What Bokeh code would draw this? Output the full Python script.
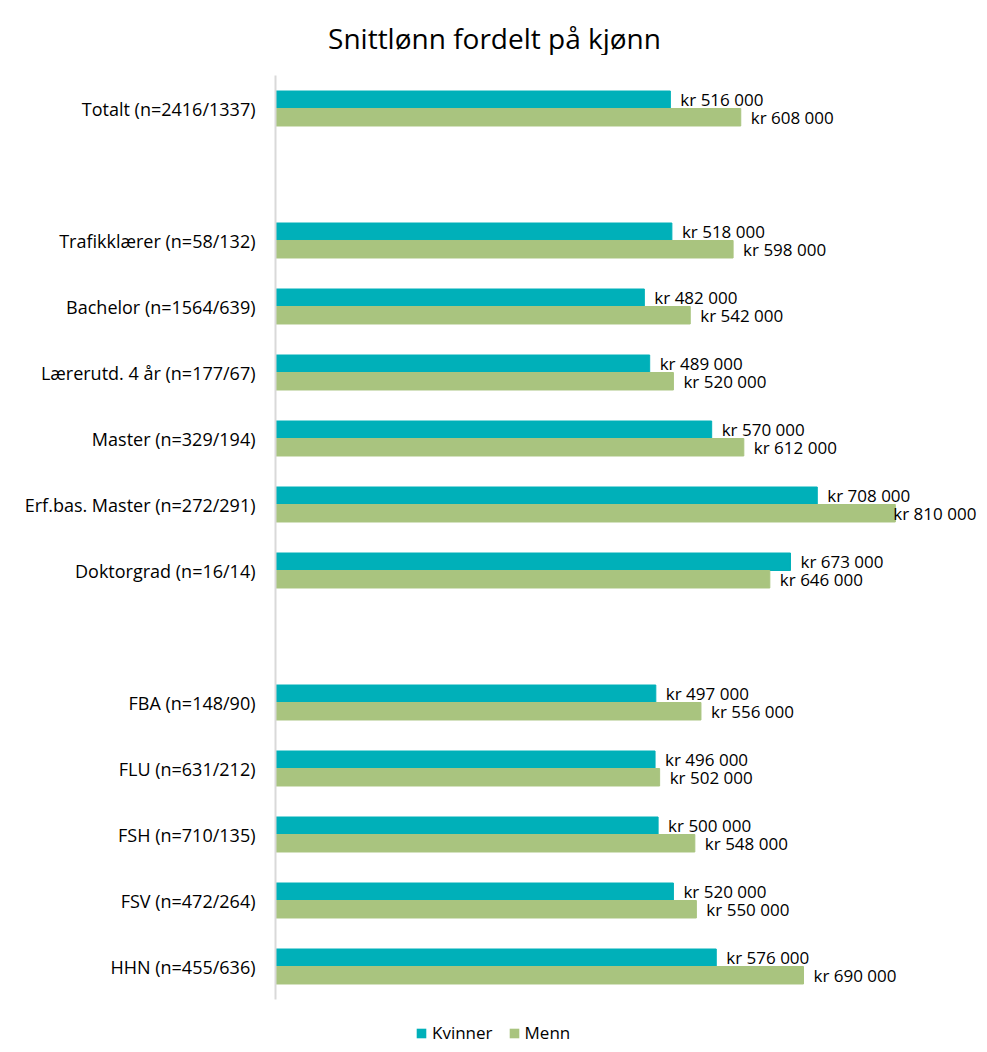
from bokeh.plotting import figure
from bokeh.layouts import column
from bokeh.models import ColumnDataSource, FactorRange, Range1d, Legend, LegendItem, Label
from bokeh.transform import dodge
from bokeh.core.properties import value
from bokeh.embed import file_html
from bokeh.resources import INLINE

title_text = "Snittlønn fordelt på kjønn"
group_total = ["Totalt (n=2416/1337)"]
group_degree = ["Trafikklærer (n=58/132)", "Bachelor (n=1564/639)", "Lærerutd. 4 år (n=177/67)",
                "Master (n=329/194)", "Erf.bas. Master (n=272/291)", "Doktorgrad (n=16/14)"]
group_faculty = ["FBA (n=148/90)", "FLU (n=631/212)", "FSH (n=710/135)", "FSV (n=472/264)", "HHN (n=455/636)"]
categories = group_total + group_degree + group_faculty
kvinner = [516000, 518000, 482000, 489000, 570000, 708000, 673000, 497000, 496000, 500000, 520000, 576000]
menn = [608000, 598000, 542000, 520000, 612000, 810000, 646000, 556000, 502000, 548000, 550000, 690000]
series_names = ["Kvinner", "Menn"]

C_K = "#00B0B9"
C_M = "#A9C47F"
FONT = "Open Sans"

factors = group_total + [" "] + group_degree + ["  "] + group_faculty

def fmt(v):
    return "kr " + f"{v:,}".replace(",", " ")

vmax = max(max(kvinner), max(menn))
src = ColumnDataSource(dict(
    cat=categories, kvinner=kvinner, menn=menn,
    k_lbl=[fmt(v) for v in kvinner], m_lbl=[fmt(v) for v in menn],
    k_off=[10 if v < vmax else -2 for v in kvinner],
    m_off=[10 if v < vmax else -2 for v in menn],
))

# title strip
tt = figure(width=979, height=55, output_backend="svg", toolbar_location=None,
            x_range=Range1d(0, 1), y_range=Range1d(0, 1),
            min_border_left=0, min_border_right=0, min_border_top=0, min_border_bottom=0)
tt.axis.visible = False
tt.grid.grid_line_color = None
tt.outline_line_color = None
tt.add_layout(Label(x=219, y=18, x_units="screen", y_units="screen", text=title_text,
                    text_align="center", text_baseline="alphabetic", text_font=FONT,
                    text_font_size="28px", text_color="#000000"))

p = figure(width=979, height=949, output_backend="svg", toolbar_location=None,
           y_range=FactorRange(factors=list(reversed(factors)), range_padding=0),
           x_range=Range1d(0, 920000),
           min_border_left=275, min_border_right=0, min_border_top=20, min_border_bottom=5)

bh = 0.265
p.hbar(y=dodge("cat", bh / 2, range=p.y_range), left=0, right="kvinner", height=bh,
       color=C_K, source=src)
p.hbar(y=dodge("cat", -bh / 2, range=p.y_range), left=0, right="menn", height=bh,
       color=C_M, source=src)
p.text(x="kvinner", y=dodge("cat", bh / 2, range=p.y_range), text="k_lbl", x_offset="k_off",
       text_baseline="middle", text_align="left", text_font=value(FONT), text_font_size="17px",
       text_color="#000000", source=src)
p.text(x="menn", y=dodge("cat", -bh / 2, range=p.y_range), text="m_lbl", x_offset="m_off",
       text_baseline="middle", text_align="left", text_font=value(FONT), text_font_size="17px",
       text_color="#000000", source=src)

p.xaxis.visible = False
p.xgrid.grid_line_color = None
p.ygrid.grid_line_color = None
p.outline_line_color = None
p.yaxis.axis_line_color = "#D9D9D9"
p.yaxis.axis_line_width = 2
p.yaxis.major_tick_line_color = None
p.yaxis.minor_tick_line_color = None
p.yaxis.major_tick_out = 0
p.yaxis.major_label_standoff = 20
p.yaxis.major_label_text_font = FONT
p.yaxis.major_label_text_font_size = "18px"
p.yaxis.major_label_text_color = "#000000"

# legend strip below the chart (proxy renderers sit outside the strip's visible ranges)
lg = figure(width=979, height=40, output_backend="svg", toolbar_location=None,
            x_range=Range1d(0, 1), y_range=Range1d(0, 1),
            min_border_left=0, min_border_right=0, min_border_top=0, min_border_bottom=0)
lg.axis.visible = False
lg.grid.grid_line_color = None
lg.outline_line_color = None
proxy = ColumnDataSource(dict(y=[5], left=[5], right=[6]))
lk = lg.hbar(y="y", left="left", right="right", height=1, fill_color=C_K, line_alpha=0, source=proxy)
lm = lg.hbar(y="y", left="left", right="right", height=1, fill_color=C_M, line_alpha=0, source=proxy)
legend = Legend(items=[LegendItem(label=series_names[0], renderers=[lk]),
                       LegendItem(label=series_names[1], renderers=[lm])],
                orientation="horizontal", location=(140, 0), border_line_color=None,
                background_fill_alpha=0, padding=0, margin=0, spacing=15,
                glyph_width=12, glyph_height=12, label_standoff=5,
                label_text_font=FONT, label_text_font_size="17px", label_text_color="#000000")
lg.add_layout(legend, "center")

open("out.html", "w").write(file_html(column(tt, p, lg, spacing=0), INLINE))
